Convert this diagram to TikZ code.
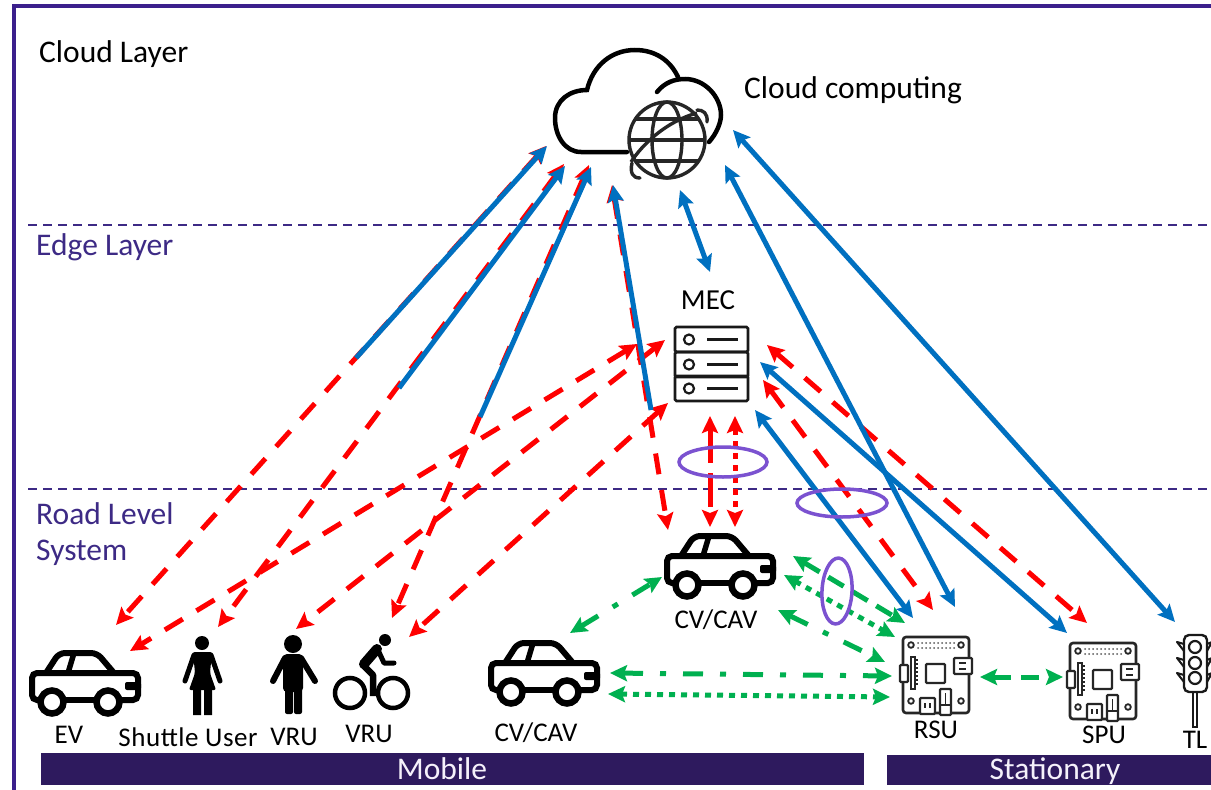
\documentclass[tikz,border=0pt]{standalone}
\usepackage{fontspec}
\setmainfont{Carlito}
\usetikzlibrary{arrows.meta}
\definecolor{fr}{HTML}{3B1F8C}
\definecolor{bar}{HTML}{2E1A5E}
\definecolor{lay}{HTML}{3D2A85}
\definecolor{bl}{HTML}{0070C0}
\definecolor{rd}{HTML}{FF0000}
\definecolor{gn}{HTML}{00B050}
\definecolor{pu}{HTML}{7B52D0}
\tikzset{
  hd/.tip={Stealth[length=17pt,width=16pt,inset=3pt]},
  blu/.style={line width=5pt,color=bl},
  red/.style={line width=5pt,color=rd,dash pattern=on 21pt off 16pt},
  redv/.style={line width=5pt,color=rd,dash pattern=on 34pt off 10pt},
  redd/.style={line width=5pt,color=rd,dash pattern=on 6pt off 6pt},
  gd/.style={line width=5pt,color=gn,dash pattern=on 18pt off 10pt},
  gp/.style={line width=5pt,color=gn,dash pattern=on 6pt off 6pt},
  gc/.style={line width=5pt,color=gn,dash pattern=on 20pt off 17pt on 6pt off 17pt},
  ring/.style={line width=3.5pt,draw=pu},
  layerdash/.style={line width=2pt,color=lay,dash pattern=on 9pt off 6pt},
  lab/.style={font=\fontsize{27}{32}\selectfont,text=black,inner sep=0pt},
  mlab/.style={font=\fontsize{29}{34}\selectfont,text=black,inner sep=0pt},
  laylab/.style={font=\fontsize{31.5}{36}\selectfont,inner sep=0pt,anchor=west},
  barlab/.style={font=\fontsize{31.5}{36}\selectfont,text=white!92!pu,inner sep=0pt},
  carpic/.pic={
    \draw[line width=6pt,rounded corners=5pt,line cap=round] (12,53) -- (4,53) -- (4,26) -- (110,26) -- (110,53) -- (92,53);
    \draw[line width=6pt] (36,53) -- (68,53);
    \draw[line width=6pt,rounded corners=6pt] (18,26) -- (31,6) -- (69,6) -- (86,26);
    \draw[line width=5.5pt] (46,6) -- (40,26);
    \fill[rounded corners=2pt] (97,35) -- (113,35) -- (113,43) -- (97,43) -- cycle;
    \draw[line width=6.5pt] (24,55) circle[radius=11.5];
    \draw[line width=6.5pt] (80,55) circle[radius=11.5];
  },
  bk/.style={line width=2.4pt,draw=black!85},
  bkf/.style={line width=2.4pt,draw=black!85,fill=white,rounded corners=1pt},
  boardpic/.pic={
    \draw[line width=2.6pt,draw=black!85,rounded corners=3pt] (0,0) rectangle (66,76);
    \foreach \px/\py in {8/8,58/8,8/64,58/64} \draw[line width=1.8pt,draw=black!85] (\px,\py) circle[radius=2.8];
    \foreach \px in {15,19,...,51} {\fill[black!65] (\px,6) circle[radius=1]; \fill[black!65] (\px,11) circle[radius=1];}
    \draw[bkf] (-3,28) rectangle (5,45);
    \draw[bk] (8,20) -- (8,52) -- (12,52) -- (12,20) -- cycle;
    \foreach \py in {23,27,...,50} \draw[line width=1.2pt,draw=black!85] (12,\py) -- (15,\py);
    \draw[bk,rounded corners=1pt] (23,27) rectangle (42,46);
    \draw[bkf] (51,21) rectangle (69,37);
    \draw[line width=1.6pt,draw=black!85] (56,26) -- (63,26) (56,32) -- (63,32);
    \draw[bkf] (17,61) rectangle (32,77);
    \draw[line width=1.6pt,draw=black!85] (22,66) -- (22,71) (27,66) -- (27,71);
    \draw[bkf] (37,52) rectangle (48,78);
    \draw[line width=1.6pt,draw=black!85] (37,68) -- (48,68) (42.5,56) -- (42.5,68);
  }
}
\begin{document}
\begin{tikzpicture}[x=1pt,y=-1pt]
\useasboundingbox (0,0) rectangle (1211,790);
\fill[white] (0,0) rectangle (1211,790);
% frame
\coordinate (fa) at (14,790); \coordinate (fb) at (14,6); \coordinate (fc) at (1211,6);
\draw[line width=3.5pt,fr] (fa) -- (fb) -- (fc);
% layers
\coordinate (la) at (28,225); \coordinate (lb) at (1211,225);
\coordinate (lc) at (28,489); \coordinate (ld) at (1211,489);
\draw[layerdash] (la) -- (lb);
\draw[layerdash] (lc) -- (ld);
\node[laylab,text=black] (tcloud) at (39,54) {Cloud Layer};
\node[laylab,text=lay] (tedge) at (36,247) {Edge Layer};
\node[laylab,text=lay] (troad) at (36,514) {Road Level};
\node[laylab,text=lay] (tsys) at (36,553) {System};
\node[laylab,text=black] (tcc) at (744,90) {Cloud computing};
% bars
\fill[bar] (41,753) rectangle (864,785);
\fill[bar] (887,755) rectangle (1211,785);
\node[barlab] (tmob) at (442,769) {Mobile};
\node[barlab] (tsta) at (1055,771) {Stationary};
% cloud
\draw[line width=4.5pt,line cap=round] (627,152) -- (581,152) .. controls (565,152) and (555,136) .. (555,118) .. controls (555,100) and (570,90) .. (587,90) .. controls (593,65) and (612,50) .. (635,50) .. controls (655,50) and (670,60) .. (678,77);
\draw[line width=4.5pt,line cap=round] (657,92) .. controls (665,82) and (675,79) .. (685,79) .. controls (705,79) and (721,97) .. (721,115) .. controls (721,122) and (717,133) .. (709,142);
% globe
\draw[line width=3.4pt,black!85,fill=white] (667,140) circle[radius=38];
\draw[line width=3.4pt,black!85] (667,140) ellipse[x radius=15,y radius=38];
\draw[line width=3.4pt,black!85] (635,119) -- (699,119) (629,140) -- (705,140) (635,161) -- (699,161);
\draw[line width=3.4pt,black!85] (631,162) .. controls (642,145) and (665,122) .. (697,113);
\draw[line width=3.4pt,black!85,line cap=round] (697,110) .. controls (703,110) and (708,113) .. (707,122);
\draw[line width=3.4pt,black!85,line cap=round] (632,163) .. controls (630,172) and (632,178) .. (640,178);
% MEC
\node[mlab] (mec) at (708,300) {MEC};
\foreach \ry in {327,352,376}{
  \draw[line width=2.6pt,black!90,rounded corners=1.5pt] (675,\ry) rectangle (748,\ry+25);
  \draw[line width=2.2pt,black!90] (689,\ry+12.5) circle[radius=5];
  \draw[line width=2.2pt,black!90] (707,\ry+12.5) -- (738,\ry+12.5);
}
% cars
\pic at (28,647) {carpic};
\pic at (487,637) {carpic};
\pic at (663,530) {carpic};
\node[lab] (tev) at (69,735) {EV};
\node[lab,font=\fontsize{27}{32}\selectfont\addfontfeature{LetterSpace=2}] (tsh) at (188,737) {Shuttle User};
\node[lab] (tv1) at (294,737) {VRU};
\node[lab] (tv2) at (369,734) {VRU};
\node[lab] (tc1) at (536,733) {CV/CAV};
\node[lab] (tc2) at (716,620) {CV/CAV};
\node[lab] (trsu) at (936,730) {RSU};
\node[lab] (tspu) at (1104,735) {SPU};
\node[lab] (ttl) at (1195,740) {TL};
% woman
\fill (202,643) circle[radius=7];
\fill[rounded corners=2pt] (193,652) -- (212,652) -- (210,673) -- (216,690) -- (189,690) -- (195,673) -- cycle;
\draw[line width=5pt,line cap=round] (194,655) -- (185,681) (211,655) -- (220,681);
\fill (193,688) rectangle (201,715) (204,688) rectangle (212,715);
% man
\fill (293,644) circle[radius=9];
\fill[rounded corners=4pt] (283,654) rectangle (303,692);
\draw[line width=6pt,line cap=round] (285,658) -- (273,681) (301,658) -- (315,681);
\fill[rounded corners=2pt] (285,685) rectangle (293,714) (294,685) rectangle (302,714);
% cyclist
\fill (385,640) circle[radius=6];
\draw[line width=4.5pt] (350,693) circle[radius=15] (393,693) circle[radius=15];
\draw[line width=10pt,line cap=round] (364,664) -- (377,649);
\draw[line width=5pt,line cap=round,line join=round] (378,650) -- (384,663) -- (394,663);
\draw[line width=6.5pt,line join=round] (362,664) -- (373,675) -- (373,696);
% boards
\pic at (903,637) {boardpic};
\pic at (1070,643) {boardpic};
% traffic light
\draw[line width=2.4pt,black!90,rounded corners=5pt] (1184,635) rectangle (1207,692);
\foreach \ry in {647,663,678} {
  \draw[line width=2.2pt,black!90] (1195,\ry) circle[radius=6];
  \draw[line width=2pt,black!90,line join=round] (1184,\ry-3) -- (1177,\ry-5) -- (1184,\ry+4);
  \draw[line width=2pt,black!90,line join=round] (1207,\ry-3) -- (1212,\ry-5) -- (1207,\ry+4);
}
\draw[line width=2.2pt,black!90] (1193,692) rectangle (1197,727);
% connector ends
\coordinate (c1r) at (546,146); \coordinate (c2r) at (564,164); \coordinate (c3r) at (589,165);
\coordinate (c4r) at (612,185);
\coordinate (c1) at (547,146); \coordinate (c2) at (565,166); \coordinate (c3) at (591,167);
\coordinate (c4) at (613,185); \coordinate (c5) at (680,190); \coordinate (c6) at (725,165);
\coordinate (c7) at (733,130);
\coordinate (m1) at (637,344); \coordinate (m2) at (665,340); \coordinate (m3) at (668,403);
\coordinate (m4) at (710,272);
\coordinate (mr1) at (767,345); \coordinate (mr2) at (763,380); \coordinate (mr3) at (760,362);
\coordinate (mr4) at (755,410);
\coordinate (mb1) at (710,416); \coordinate (mb2) at (735,416);
\coordinate (ev1) at (116,625); \coordinate (ev2) at (130,651); \coordinate (su) at (218,627);
\coordinate (vr) at (296,629); \coordinate (bk1) at (392,618); \coordinate (bk2) at (409,637);
\coordinate (b1) at (356,358); \coordinate (b2) at (399,388); \coordinate (b3) at (480,417);
\coordinate (b4) at (651,410);
\coordinate (cv1) at (668,530); \coordinate (cv2) at (710,527); \coordinate (cv3) at (735,527);
\coordinate (r1) at (955,607); \coordinate (r2) at (933,610); \coordinate (r3) at (913,618);
\coordinate (s1) at (1087,623); \coordinate (s2) at (1067,633); \coordinate (t1) at (1175,622);
\coordinate (gA) at (570,633); \coordinate (gB) at (662,577);
\coordinate (gC) at (793,556); \coordinate (gD) at (905,623);
\coordinate (gE) at (784,575); \coordinate (gF) at (895,637);
\coordinate (gG) at (778,610); \coordinate (gH) at (885,662);
\coordinate (gI) at (610,673); \coordinate (gJ) at (892,676);
\coordinate (gK) at (608,694); \coordinate (gL) at (890,697);
\coordinate (gM) at (980,677); \coordinate (gN) at (1063,677);
% red
\draw[red,{hd}-{hd}] (c1r) -- (ev1);
\draw[red,{hd}-{hd}] (c2r) -- (su);
\draw[red,{hd}-{hd}] (c3r) -- (bk1);
\draw[red,{hd}-{hd}] (c4r) -- (cv1);
\draw[red,{hd}-{hd}] (m1) -- (ev2);
\draw[red,{hd}-{hd}] (m2) -- (vr);
\draw[red,{hd}-{hd}] (m3) -- (bk2);
\draw[red,{hd}-{hd}] (mr1) -- (s1);
\draw[red,{hd}-{hd}] (mr2) -- (r2);
\draw[redv,{hd}-{hd}] (mb1) -- (cv2);
\draw[redd,{hd}-{hd}] (mb2) -- (cv3);
% blue
\draw[blu,-{hd}] (b1) -- (c1);
\draw[blu,-{hd}] (b2) -- (c2);
\draw[blu,-{hd}] (b3) -- (c3);
\draw[blu,-{hd}] (b4) -- (c4);
\draw[blu,{hd}-{hd}] (c5) -- (m4);
\draw[blu,{hd}-{hd}] (c6) -- (r1);
\draw[blu,{hd}-{hd}] (c7) -- (t1);
\draw[blu,{hd}-{hd}] (mr3) -- (s2);
\draw[blu,{hd}-{hd}] (mr4) -- (r3);
% green
\draw[gc,{hd}-{hd}] (gA) -- (gB);
\draw[gd,{hd}-{hd}] (gC) -- (gD);
\draw[gp,{hd}-{hd}] (gE) -- (gF);
\draw[gc,{hd}-{hd}] (gG) -- (gH);
\draw[gc,{hd}-{hd}] (gI) -- (gJ);
\draw[gp,{hd}-{hd}] (gK) -- (gL);
\draw[gd,{hd}-{hd}] (gM) -- (gN);
% rings
\draw[ring] (723,462) ellipse[x radius=44,y radius=15];
\draw[ring] (842,503) ellipse[x radius=45,y radius=14];
\draw[ring,rotate around={-3:(837,591)}] (837,591) ellipse[x radius=15,y radius=33];
\end{tikzpicture}
\end{document}
